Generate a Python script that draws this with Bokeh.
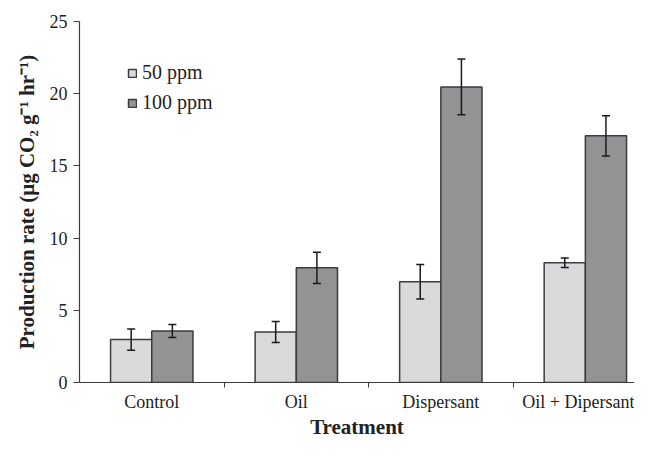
from bokeh.plotting import figure
from bokeh.models import ColumnDataSource, FixedTicker, Whisker, TeeHead, Range1d, Legend, LegendItem
from bokeh.embed import file_html
from bokeh.resources import INLINE

categories = ["Control", "Oil", "Dispersant", "Oil + Dipersant"]
series_names = ["50 ppm", "100 ppm"]
rate_50 = [2.97, 3.50, 6.98, 8.29]
err_50 = [0.74, 0.73, 1.20, 0.33]
rate_100 = [3.56, 7.94, 20.47, 17.08]
err_100 = [0.45, 1.08, 1.93, 1.39]
y_ticks = [0, 5, 10, 15, 20, 25]

FONT = "Liberation Serif"
LIGHT = "#dadadc"
DARK = "#939396"
EDGE = "#3c3c3c"
TXT = "#222222"
BW = 0.285

centers = [i + 0.5 for i in range(len(categories))]

p = figure(width=634, height=441, output_backend="svg", toolbar_location=None,
           x_range=Range1d(0, 3.84), y_range=Range1d(0, 25))
p.min_border_left = 79
p.min_border_right = 0
p.min_border_top = 21
p.min_border_bottom = 50
p.outline_line_color = None
p.xgrid.visible = False
p.ygrid.visible = False
p.background_fill_color = "white"

src50 = ColumnDataSource(dict(x=[c - BW / 2 for c in centers], top=rate_50,
                              lo=[v - e for v, e in zip(rate_50, err_50)],
                              hi=[v + e for v, e in zip(rate_50, err_50)]))
src100 = ColumnDataSource(dict(x=[c + BW / 2 for c in centers], top=rate_100,
                               lo=[v - e for v, e in zip(rate_100, err_100)],
                               hi=[v + e for v, e in zip(rate_100, err_100)]))

r50 = p.vbar(x="x", top="top", width=BW, bottom=0, source=src50,
             fill_color=LIGHT, line_color=EDGE, line_width=1.5)
r100 = p.vbar(x="x", top="top", width=BW, bottom=0, source=src100,
              fill_color=DARK, line_color=EDGE, line_width=1.5)

for s in (src50, src100):
    w = Whisker(base="x", upper="hi", lower="lo", source=s, level="overlay",
                line_color="#1a1a1a", line_width=1.5,
                upper_head=TeeHead(size=8, line_color="#1a1a1a", line_width=1.5),
                lower_head=TeeHead(size=8, line_color="#1a1a1a", line_width=1.5))
    p.add_layout(w)

# x axis
xa = p.xaxis[0]
xa.ticker = FixedTicker(ticks=centers, minor_ticks=[1, 2, 3])
xa.major_label_overrides = {c: n for c, n in zip(centers, categories)}
xa.major_tick_line_color = None
xa.major_tick_out = 0
xa.major_tick_in = 0
xa.minor_tick_out = 5
xa.minor_tick_in = 0
xa.minor_tick_line_color = EDGE
xa.axis_line_color = EDGE
xa.axis_line_width = 1.2
xa.major_label_text_font = FONT
xa.major_label_text_font_size = "18px"
xa.major_label_text_color = TXT
xa.major_label_standoff = 4
xa.axis_label = "Treatment"
xa.axis_label_text_font = FONT
xa.axis_label_text_font_size = "21px"
xa.axis_label_text_font_style = "bold"
xa.axis_label_text_color = TXT
xa.axis_label_standoff = 0

ya = p.yaxis[0]
ya.ticker = FixedTicker(ticks=y_ticks)
ya.minor_tick_line_color = None
ya.major_tick_out = 6
ya.major_tick_in = 0
ya.major_tick_line_color = EDGE
ya.axis_line_color = EDGE
ya.axis_line_width = 1.2
ya.major_label_text_font = FONT
ya.major_label_text_font_size = "18px"
ya.major_label_text_color = TXT
ya.major_label_standoff = 6
ya.axis_label = "Production rate (μg CO₂ g⁻¹ hr⁻¹)"
ya.axis_label_text_font = FONT
ya.axis_label_text_font_size = "21px"
ya.axis_label_text_font_style = "bold"
ya.axis_label_text_color = TXT
ya.axis_label_standoff = 8

legend = Legend(items=[LegendItem(label=series_names[0], renderers=[r50]),
                       LegendItem(label=series_names[1], renderers=[r100])],
                location=(48, 268))
legend.glyph_width = 10
legend.glyph_height = 10
legend.label_text_font = FONT
legend.label_text_font_size = "20px"
legend.label_text_color = TXT
legend.label_standoff = 5
legend.spacing = 7
legend.background_fill_alpha = 0
legend.border_line_color = None
legend.padding = 0
legend.margin = 0
p.add_layout(legend)

open("out.html", "w").write(file_html(p, INLINE))
